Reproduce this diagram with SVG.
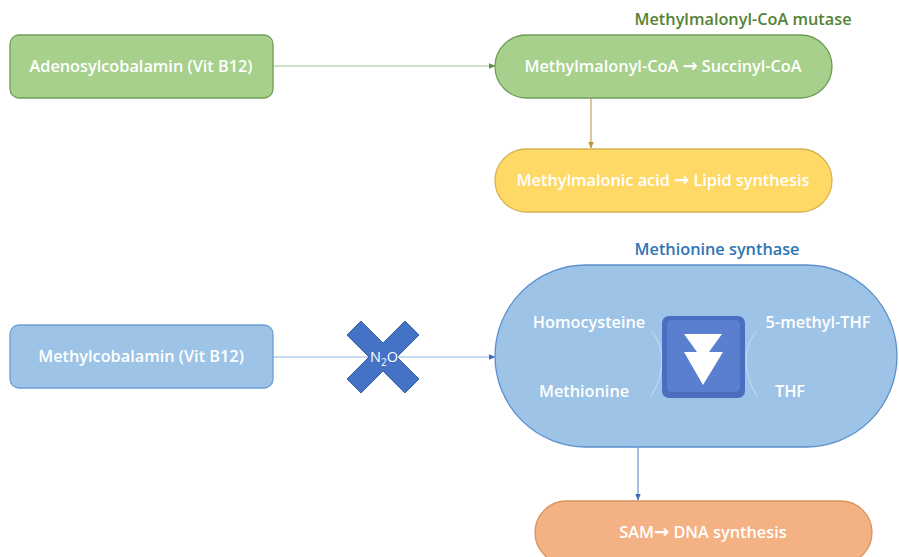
<svg xmlns="http://www.w3.org/2000/svg" width="899" height="557" viewBox="0 0 899 557">
<defs>
<style>
text{font-family:"Open Sans","Liberation Sans",sans-serif;font-size:16.3px;font-weight:600;text-anchor:middle}
.w{fill:#ffffff}
.ar{font-family:"DejaVu Sans",sans-serif;font-weight:bold;font-size:18px}
.ln{fill:none;stroke-width:1.2}
</style>
<marker id="ag" viewBox="0 0 10 10" refX="9" refY="5" markerWidth="6" markerHeight="6" orient="auto"><path d="M0,1 L10,5 L0,9 Z" fill="#5f8f45"/></marker>
<marker id="ao" viewBox="0 0 10 10" refX="9" refY="5" markerWidth="6" markerHeight="6" orient="auto"><path d="M0,1 L10,5 L0,9 Z" fill="#c0923a"/></marker>
<marker id="ab" viewBox="0 0 10 10" refX="9" refY="5" markerWidth="6" markerHeight="6" orient="auto"><path d="M0,1 L10,5 L0,9 Z" fill="#3f6fb8"/></marker>
</defs>
<rect width="899" height="557" fill="#ffffff"/>
<g id="connectors">
<line class="ln" x1="273" y1="66" x2="495" y2="66" stroke="#a3c492" marker-end="url(#ag)"/>
<line class="ln" x1="591" y1="98" x2="591" y2="148" stroke="#c9a25a" marker-end="url(#ao)"/>
<line class="ln" x1="273" y1="357" x2="495" y2="357" stroke="#8fb3e0" marker-end="url(#ab)"/>
<line class="ln" x1="638" y1="447" x2="638" y2="500" stroke="#6a98d6" marker-end="url(#ab)"/>
</g>
<g id="adenosyl">
<rect x="10" y="35" width="263" height="63" rx="9" fill="#a8d08d" stroke="#6f9e55" stroke-width="1.3"/>
<text class="w" x="141" y="72">Adenosylcobalamin (Vit B12)</text>
</g>
<g id="mutase-label">
<text x="743" y="25" fill="#548235">Methylmalonyl-CoA mutase</text>
</g>
<g id="methylmalonyl">
<rect x="495" y="35" width="337" height="63" rx="31.5" fill="#a8d08d" stroke="#6f9e55" stroke-width="1.3"/>
<text class="w" x="663" y="72">Methylmalonyl-CoA <tspan class="ar">→</tspan> Succinyl-CoA</text>
</g>
<g id="lipid">
<rect x="495" y="149" width="337" height="63" rx="31.5" fill="#ffd966" stroke="#d8b352" stroke-width="1.3"/>
<text class="w" x="663" y="186">Methylmalonic acid <tspan class="ar">→</tspan> Lipid synthesis</text>
</g>
<g id="methylcobalamin">
<rect x="10" y="325" width="263" height="63" rx="9" fill="#9dc3e6" stroke="#6c9dd2" stroke-width="1.3"/>
<text class="w" x="141" y="362">Methylcobalamin (Vit B12)</text>
</g>
<g id="n2o">
<path d="M347,335 L361,321 L383,343 L405,321 L419,335 L397,357 L419,379 L405,393 L383,371 L361,393 L347,379 L369,357 Z" fill="#4472c4" stroke="#3a62a8" stroke-width="1"/>
<text class="w" x="384" y="362" style="font-size:14.5px;font-weight:400">N<tspan dy="4" style="font-size:10px">2</tspan><tspan dy="-4">O</tspan></text>
</g>
<g id="synthase-label">
<text x="717" y="255" fill="#2e75b6">Methionine synthase</text>
</g>
<g id="methionine-synthase">
<rect x="495" y="265" width="402" height="182" rx="91" fill="#9dc3e6" stroke="#5b8fce" stroke-width="1.3"/>
<path d="M651,330 Q673,357 651,397" fill="none" stroke="#c7dcf1" stroke-width="1"/>
<path d="M757,330 Q735,357 757,397" fill="none" stroke="#c7dcf1" stroke-width="1"/>
<rect x="662" y="316" width="83" height="82" rx="7" fill="#4a6fc0"/>
<rect x="667" y="320" width="73" height="72" rx="5" fill="#5a7fcf"/>
<path d="M684,334 L722,334 L709,352 L697,352 Z" fill="#ffffff"/>
<path d="M684,352 L723,352 L703,385 Z" fill="#ffffff"/>
<text class="w" x="589" y="328">Homocysteine</text>
<text class="w" x="584" y="397">Methionine</text>
<text class="w" x="818" y="328">5-methyl-THF</text>
<text class="w" x="790" y="397">THF</text>
</g>
<g id="sam">
<rect x="535" y="501" width="337" height="63" rx="31.5" fill="#f4b183" stroke="#d8955f" stroke-width="1.3"/>
<text class="w" x="703" y="538">SAM<tspan class="ar">→</tspan> DNA synthesis</text>
</g>
</svg>
